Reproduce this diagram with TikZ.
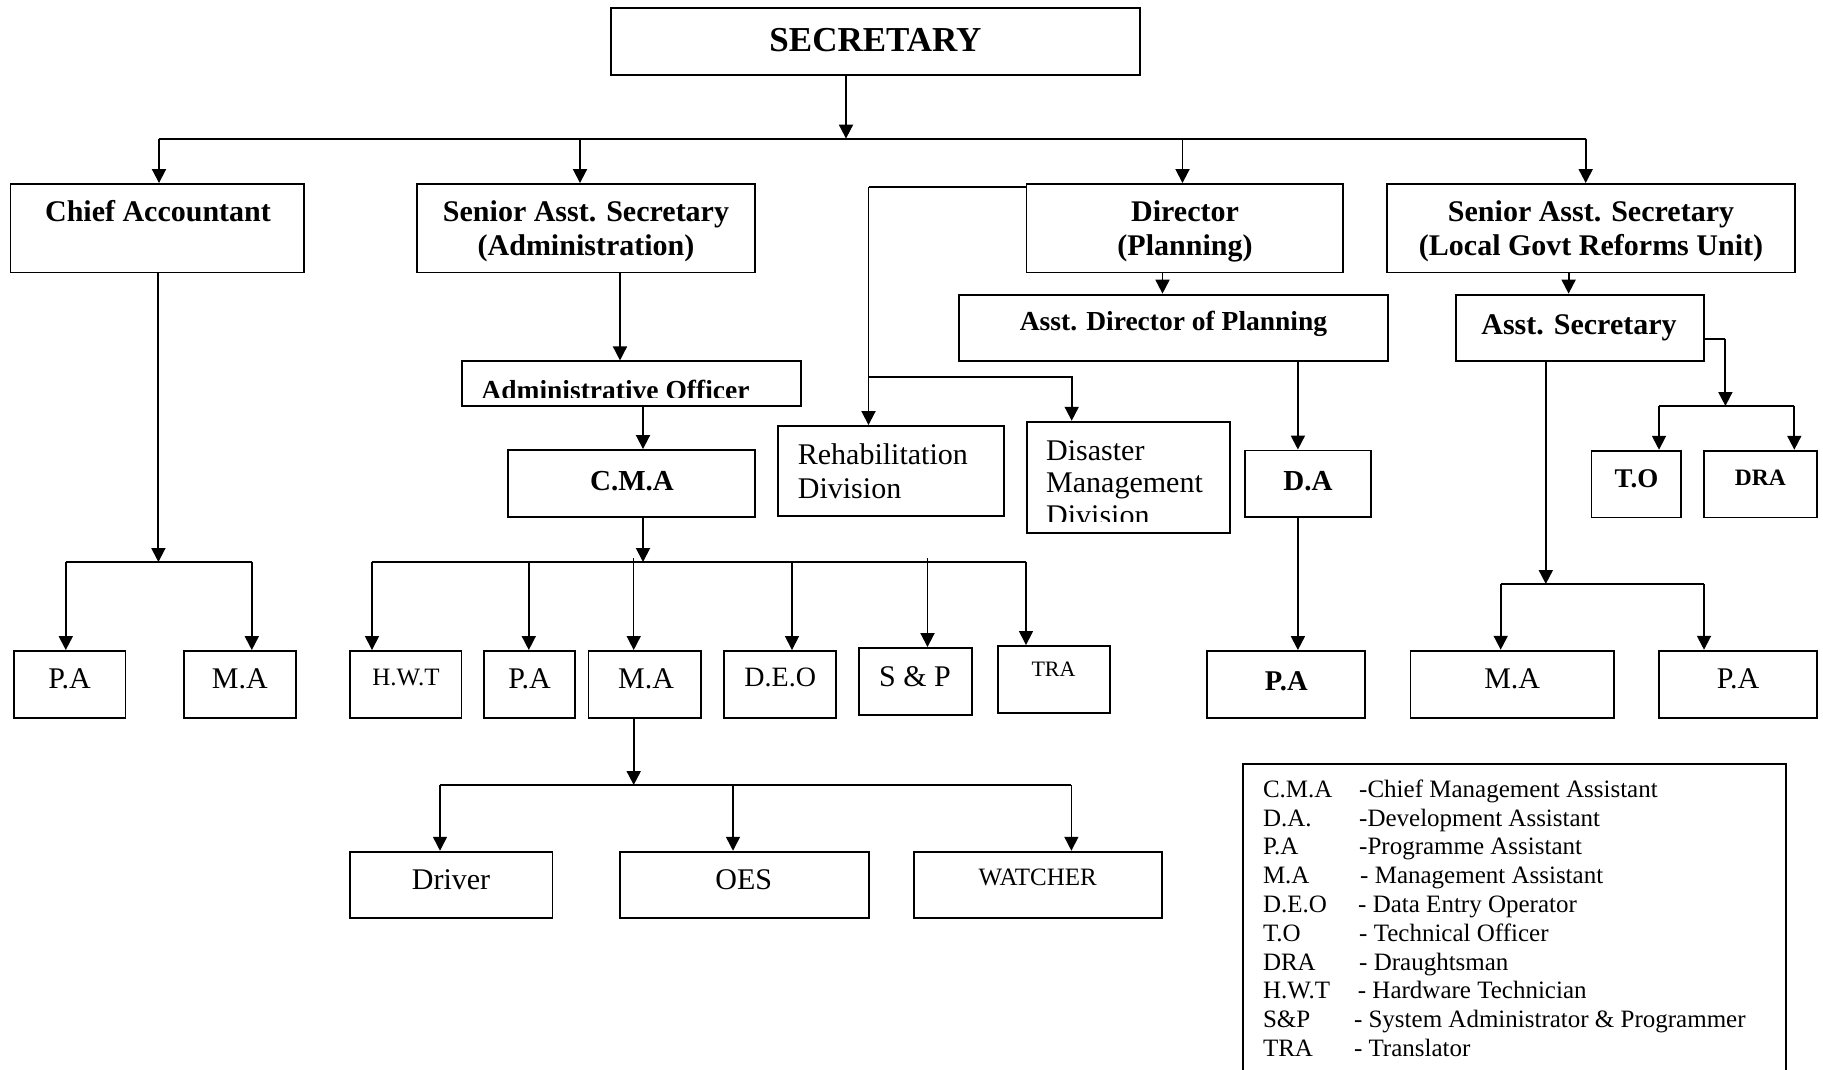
\documentclass[tikz,border=0pt]{standalone}
\usepackage{fontspec}
\setmainfont{Liberation Serif}
\usetikzlibrary{arrows.meta}
\newcommand\fs[1]{\fontsize{#1}{#1}\selectfont}
% box given by its left, top, right and bottom edges (y grows downwards)
\newcommand\orgbox[5]{\node[box, minimum width={#4-#2}, minimum height={#5-#3}] (#1) at ({(#2+#4)/2},{(#3+#5)/2}) {};}
\begin{document}
\begin{tikzpicture}[x=1pt,y=-1pt,
  box/.style={draw, line width=1.9pt, inner sep=0pt},
  txt/.style={anchor=base, inner sep=0pt},
  txtl/.style={anchor=base west, inner sep=0pt},
  conn/.style={line width=1.9pt},
  thinconn/.style={line width=1.5pt},
  arr/.style={-{Triangle[length=14pt,width=14pt]}},
  b30/.style={font=\bfseries\fs{30}},
  r30/.style={font=\fs{30}},
  leg/.style={txtl, font=\fs{25}}
]
\useasboundingbox (0,0) rectangle (1823,1070);

% ---------- boxes ----------
\orgbox{sec}{611}{8}{1140}{75}
\orgbox{ca}{10.5}{184}{304}{272.5}
\orgbox{sasa}{417}{184}{755}{272.5}
\orgbox{dir}{1026.5}{184}{1342.6}{272.5}
\orgbox{sasl}{1387}{184}{1794.6}{272.5}
\orgbox{ao}{462.4}{361.4}{801}{406.4}
\orgbox{cma}{507.6}{450}{755}{517}
\orgbox{adp}{958.9}{294.6}{1388}{361.4}
\orgbox{asec}{1455.6}{294.6}{1704}{361.4}
\orgbox{rehab}{777.7}{426}{1004.3}{515.7}
\orgbox{dis}{1026.7}{421.7}{1230}{532.7}
\orgbox{da}{1245}{450.5}{1370.9}{517.3}
\orgbox{tofc}{1591.5}{450.7}{1681.3}{517.5}
\orgbox{dra}{1703.6}{450.7}{1817}{517.5}
\orgbox{pa1}{13.8}{651}{125.5}{718.3}
\orgbox{ma1}{183.7}{651}{296}{718.3}
\orgbox{hwt}{349.7}{651}{461.5}{718.3}
\orgbox{pa2}{484.4}{651}{574.7}{718.3}
\orgbox{ma2}{588.5}{651}{701}{718.3}
\orgbox{deo}{724}{651}{835.7}{718.3}
\orgbox{sp}{859.4}{648}{972}{715}
\orgbox{tra}{998}{646}{1109.7}{712.7}
\orgbox{pa3}{1207.3}{651}{1365.3}{717.7}
\orgbox{ma3}{1410.5}{650.7}{1613.9}{718.3}
\orgbox{pa4}{1659}{650.7}{1817}{718.3}
\orgbox{drv}{349.7}{851.7}{552.5}{918}
\orgbox{oes}{620}{851.7}{868.6}{918}
\orgbox{wat}{913.7}{851.7}{1161.7}{918}
\orgbox{key}{1243}{764}{1786}{1090}

% ---------- box texts ----------
\node[txt, font=\bfseries\fs{35}] (sec-t) at (875.5,51.8) {SECRETARY};
\node[txt, b30] (ca-t) at (158,221.4) {Chief Accountant};
\node[txt, b30] (sasa-t1) at (586,221.4) {Senior Asst. Secretary};
\node[txt, b30] (sasa-t2) at (586,255) {(Administration)};
\node[txt, b30] (dir-t1) at (1185,221.4) {Director};
\node[txt, b30] (dir-t2) at (1185,255) {(Planning)};
\node[txt, b30] (sasl-t1) at (1591,221.4) {Senior Asst. Secretary};
\node[txt, b30] (sasl-t2) at (1591,255) {(Local Govt Reforms Unit)};
\begin{scope}
  \clip (463,362) rectangle (800,397.5);
  \node[txt, font=\bfseries\fs{27.5}] (ao-t) at (615.5,399) {Administrative Officer};
\end{scope}
\node[txt, font=\bfseries\fs{29}] (cma-t) at (632,490) {C.M.A};
\node[txt, font=\bfseries\fs{27.5}] (adp-t) at (1173.5,330.4) {Asst. Director of Planning};
\node[txt, b30] (asec-t) at (1579,334) {Asst. Secretary};
\node[txtl, r30] (rehab-t1) at (797.7,464) {Rehabilitation};
\node[txtl, r30] (rehab-t2) at (797.7,498) {Division};
\begin{scope}
  \clip (1028,423) rectangle (1229,521.7);
  \node[txtl, r30] (dis-t1) at (1046,460) {Disaster};
  \node[txtl, r30] (dis-t2) at (1046,492.7) {Management};
  \node[txtl, r30] (dis-t3) at (1046,525.4) {Division};
\end{scope}
\node[txt, font=\bfseries\fs{29}] (da-t) at (1308,490) {D.A};
\node[txt, font=\bfseries\fs{27}] (tofc-t) at (1636.4,487) {T.O};
\node[txt, font=\bfseries\fs{23.5}] (dra-t) at (1760.3,485) {DRA};
\node[txt, r30] (pa1-t) at (69.6,688.3) {P.A};
\node[txt, r30] (ma1-t) at (239.8,688.3) {M.A};
\node[txt, font=\fs{25}] (hwt-t) at (406,685) {H.W.T};
\node[txt, r30] (pa2-t) at (529.6,688.3) {P.A};
\node[txt, r30] (ma2-t) at (646,688.3) {M.A};
\node[txt, font=\fs{28}] (deo-t) at (780.2,686.7) {D.E.O};
\node[txt, r30] (sp-t) at (915,686.7) {S \& P};
\node[txt, font=\fs{22}] (tra-t) at (1053.5,676.7) {TRA};
\node[txt, font=\bfseries\fs{28.6}] (pa3-t) at (1286.3,690) {P.A};
\node[txt, r30] (ma3-t) at (1512.2,688.3) {M.A};
\node[txt, r30] (pa4-t) at (1738,688.3) {P.A};
\node[txt, r30] (drv-t) at (451,889.3) {Driver};
\node[txt, r30] (oes-t) at (743.8,889.3) {OES};
\node[txt, font=\fs{25}] (wat-t) at (1037.7,885) {WATCHER};

% ---------- key of abbreviations ----------
\foreach \a/\b/\x [count=\i] in {
  C.M.A/-Chief Management Assistant/1359,
  D.A./-Development Assistant/1359,
  P.A/-Programme Assistant/1359,
  M.A/- Management Assistant/1360,
  D.E.O/- Data Entry Operator/1358,
  T.O/- Technical Officer/1359,
  DRA/- Draughtsman/1359,
  H.W.T/- Hardware Technician/1357.7,
  S\&P/- System Administrator \& Programmer/1353.8,
  TRA/- Translator/1353.8}
{
  \node[leg] (ka-\i) at (1262.8,{797.3+28.8*(\i-1)}) {\a};
  \node[leg] (kb-\i) at (\x,{797.3+28.8*(\i-1)}) {\b};
}

% ---------- connectors ----------
% Secretary to the four heads
\coordinate (hub) at (846,138.6);
\coordinate (dCA) at (159,138.6);
\coordinate (dSA) at (580,138.6);
\coordinate (dDI) at (1182.5,138.6);
\coordinate (dSL) at (1585.7,138.6);
\draw[conn,arr] (hub |- sec.south) -- (hub);
\draw[conn] (dCA) -- (dSL);
\foreach \c/\n in {dCA/ca, dSA/sasa, dDI/dir, dSL/sasl}
  \draw[conn,arr] (\c) -- (\c |- \n.north);

% Chief Accountant branch
\coordinate (jCA) at (158.4,562);
\coordinate (dPA1) at (65.8,562);
\coordinate (dMA1) at (251.8,562);
\draw[conn,arr] (jCA |- ca.south) -- (jCA);
\draw[conn] (dPA1) -- (dMA1);
\draw[conn,arr] (dPA1) -- (dPA1 |- pa1.north);
\draw[conn,arr] (dMA1) -- (dMA1 |- ma1.north);

% Administration branch
\coordinate (xAO) at (620,0);
\draw[thinconn,arr] (xAO |- sasa.south) -- (xAO |- ao.north);
\coordinate (jCM) at (643,562);
\draw[conn,arr] (jCM |- ao.south) -- (jCM |- cma.north);
\draw[conn,arr] (jCM |- cma.south) -- (jCM);
\coordinate (dHW) at (372,562);
\coordinate (dPA2) at (528.8,562);
\coordinate (dMA2) at (633.7,562);
\coordinate (dDE) at (792,562);
\coordinate (dSP) at (927.5,562);
\coordinate (dTR) at (1026,562);
\draw[conn] (dHW) -- (dTR);
\foreach \c/\n in {dHW/hwt, dPA2/pa2, dDE/deo, dTR/tra}
  \draw[thinconn,arr] (\c) -- (\c |- \n.north);
\draw[thinconn,arr] ([yshift=4pt]dMA2) -- (dMA2 |- ma2.north);
\draw[conn,arr] ([yshift=4pt]dSP) -- (dSP |- sp.north);

% Management Assistant to support staff
\coordinate (jMA) at (633.7,785);
\coordinate (dDR) at (440,785);
\coordinate (dOE) at (733,785);
\coordinate (dWA) at (1071.4,785);
\draw[conn,arr] (jMA |- ma2.south) -- (jMA);
\draw[conn] (dDR) -- (dWA);
\foreach \c/\n in {dDR/drv, dOE/oes, dWA/wat}
  \draw[thinconn,arr] (\c) -- (\c |- \n.north);

% Director to the two divisions
\coordinate (rTop) at (868.5,187);
\coordinate (rMid) at (868.5,376.8);
\coordinate (dMid) at (1071.7,376.8);
\draw[conn] (rTop -| dir.west) -- (rTop);
\draw[conn,arr] (rTop) -- (rTop |- rehab.north);
\draw[conn,arr] (rMid) -- (dMid) -- (dMid |- dis.north);

% Planning branch
\coordinate (xDA) at (1162.5,0);
\draw[conn,arr] (xDA |- dir.south) -- (xDA |- adp.north);
\coordinate (xDD) at (1297.9,0);
\draw[conn,arr] (xDD |- adp.south) -- (xDD |- da.north);
\draw[conn,arr] (xDD |- da.south) -- (xDD |- pa3.north);

% Local Govt Reforms Unit branch
\coordinate (xSA) at (1568.6,0);
\draw[conn,arr] (xSA |- sasl.south) -- (xSA |- asec.north);
\coordinate (jAS) at (1545.8,584);
\coordinate (dMA3) at (1500.7,584);
\coordinate (dPA4) at (1704,584);
\draw[conn,arr] (jAS |- asec.south) -- (jAS);
\draw[conn] (dMA3) -- (dPA4);
\draw[conn,arr] (dMA3) -- (dMA3 |- ma3.north);
\draw[conn,arr] (dPA4) -- (dPA4 |- pa4.north);
\coordinate (rAS) at (1725.4,338.6);
\coordinate (jTD) at (1725.4,406);
\coordinate (dTO) at (1659,406);
\coordinate (dDRA) at (1794.3,406);
\draw[conn] (rAS -| asec.east) -- (rAS);
\draw[conn,arr] (rAS) -- (jTD);
\draw[conn] (dTO) -- (dDRA);
\draw[conn,arr] (dTO) -- (dTO |- tofc.north);
\draw[conn,arr] (dDRA) -- (dDRA |- dra.north);
\end{tikzpicture}
\end{document}
